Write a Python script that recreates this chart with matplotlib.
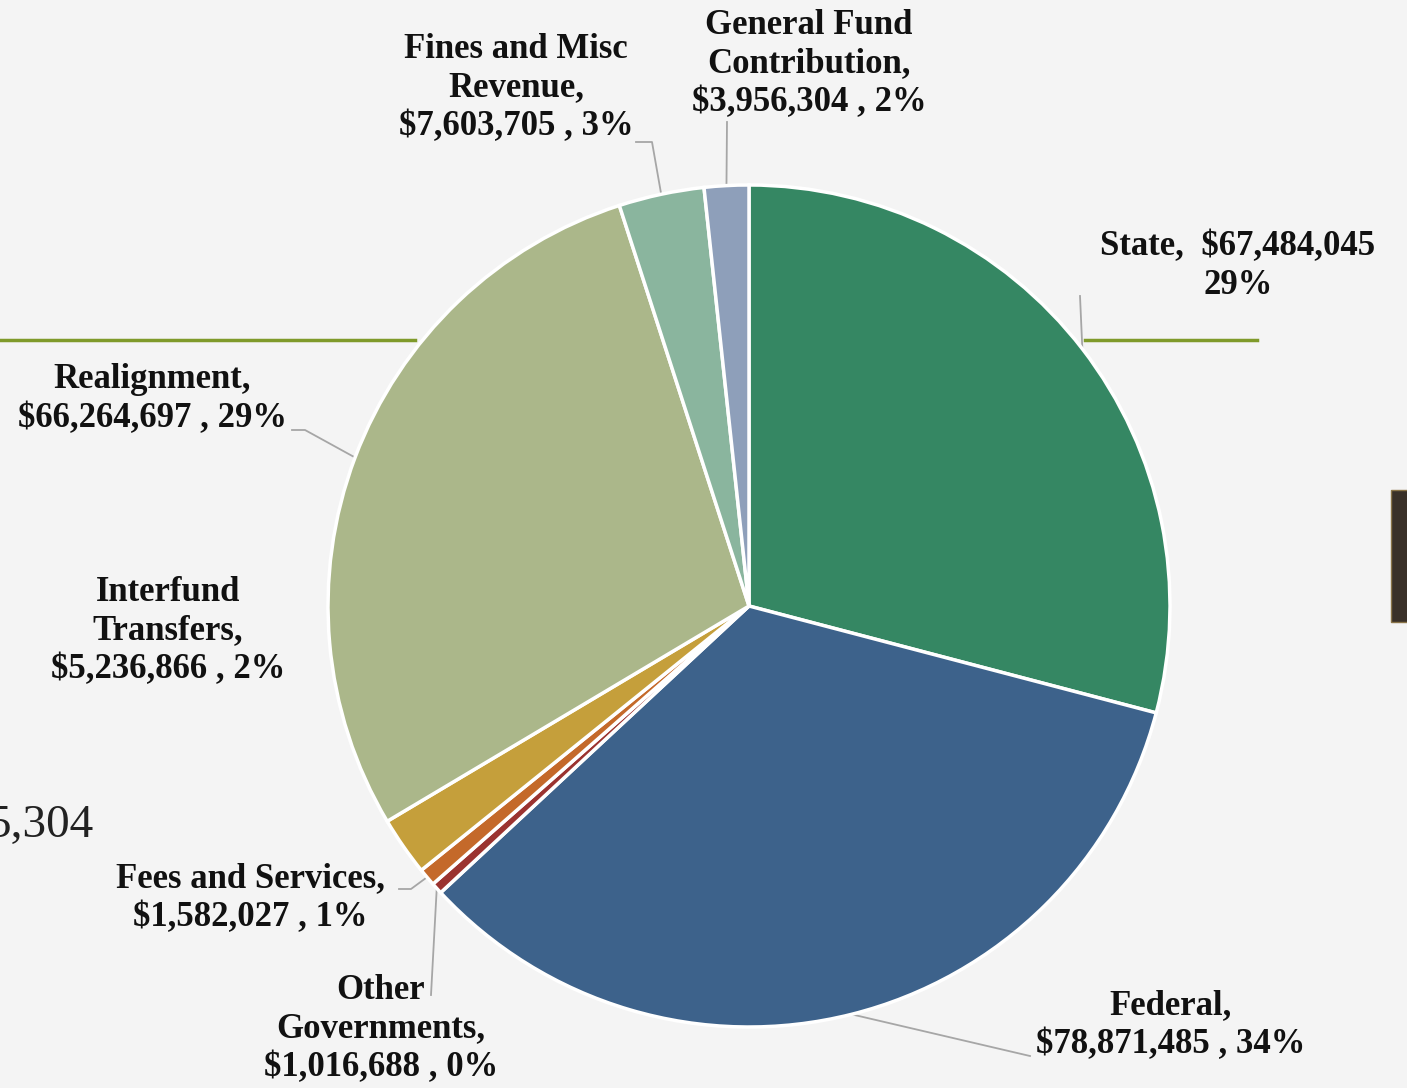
import matplotlib
matplotlib.use("Agg")
import matplotlib.pyplot as plt
import numpy as np
from matplotlib.patches import Rectangle

categories = ["State", "Federal", "Other Governments", "Fees and Services",
              "Interfund Transfers", "Realignment", "Fines and Misc Revenue",
              "General Fund Contribution"]
values = [67484045, 78871485, 1016688, 1582027, 5236866, 66264697, 7603705, 3956304]
label_texts = [
    "State,  $67,484,045\n29%",
    "Federal,\n$78,871,485 , 34%",
    "Other\nGovernments,\n$1,016,688 , 0%",
    "Fees and Services,\n$1,582,027 , 1%",
    "Interfund\nTransfers,\n$5,236,866 , 2%",
    "Realignment,\n$66,264,697 , 29%",
    "Fines and Misc\nRevenue,\n$7,603,705 , 3%",
    "General Fund\nContribution,\n$3,956,304 , 2%",
]
colors = ["#358763", "#3d628b", "#9b3330", "#c4692a", "#c59f3b", "#abb78a", "#8ab59e", "#8e9fba"]

W, H = 1407, 1088
fig = plt.figure(figsize=(W / 100, H / 100), dpi=100)
fig.patch.set_facecolor("#f4f4f4")
ax = fig.add_axes([0, 0, 1, 1])
ax.set_xlim(0, W)
ax.set_ylim(0, H)
ax.axis("off")

def Y(py):
    return H - py

cx, cy, R = 749, Y(606), 421

# decorative slide elements
ax.plot([0, 415], [Y(340), Y(340)], color="#7f9a2a", lw=2.5, zorder=0)
ax.plot([1085, 1257], [Y(340), Y(340)], color="#7f9a2a", lw=2.5, zorder=0)
ax.add_patch(Rectangle((1391, Y(622)), 20, 132, facecolor="#3a3129", edgecolor="#8a7448", lw=1, zorder=0))
ax.text(93, Y(826), "5,304", fontsize=34, family="Liberation Serif", ha="right", va="center", color="#222222")

wedges, _ = ax.pie(values, colors=colors, startangle=90, counterclock=False,
                   center=(cx, cy), radius=R,
                   wedgeprops=dict(edgecolor="white", linewidth=2.5))
ax.set_xlim(0, W)
ax.set_ylim(0, H)
ax.set_aspect("equal")

font = dict(family="Liberation Serif", fontweight="bold", fontsize=25, color="#111111",
            ha="center", va="center", linespacing=1.22)

# label centers (pixels)
label_pos = [(1238, 266), (1171, 1025), (381, 1029), (250, 898),
             (168, 631), (152, 399), (516, 88), (809, 64)]
# leader line elbows (pixels), ending at the wedge's outer edge
leaders = {
    0: [(1080, 296)],
    1: [(1030, 1056)],
    2: [(431, 995)],
    3: [(399, 889), (411, 889)],
    5: [(292, 430), (305, 430)],
    6: [(636, 142), (652, 142)],
    7: [(727, 122)],
}
total = sum(values)
cum = 0
for i, v in enumerate(values):
    a0 = 90 - cum / total * 360
    cum += v
    a1 = 90 - cum / total * 360
    mid = np.deg2rad((a0 + a1) / 2)
    x, y = label_pos[i]
    ax.text(x, Y(y), label_texts[i], **font)
    if i in leaders:
        pts = leaders[i]
        ex = cx + R * np.cos(mid)
        ey = cy + R * np.sin(mid)
        xs = [p[0] for p in pts] + [ex]
        ys = [Y(p[1]) for p in pts] + [ey]
        ax.plot(xs, ys, color="#a6a6a6", lw=1.3, zorder=0.5)

fig.savefig("out.png", dpi=100, facecolor=fig.get_facecolor())
